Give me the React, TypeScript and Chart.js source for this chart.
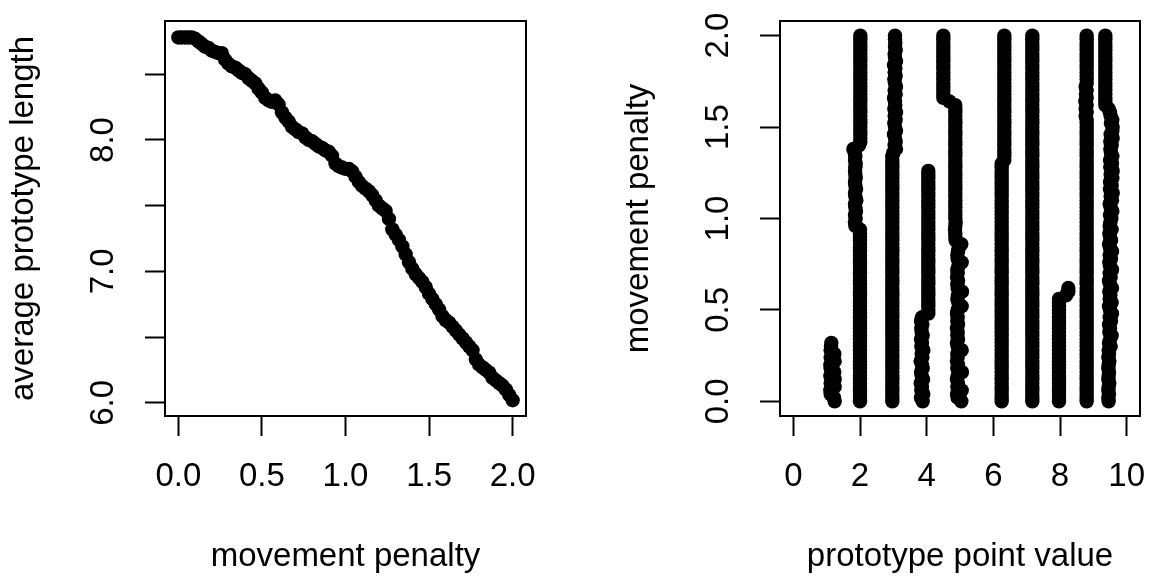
import { useEffect, useRef } from 'react';
import { Chart, registerables } from 'chart.js';

Chart.register(...registerables);

const N = null;

// movement penalty values (shared by both panels)
const penalties = [
  0.00, 0.02, 0.04, 0.06, 0.08, 0.10, 0.12, 0.14, 0.16, 0.18,
  0.20, 0.22, 0.24, 0.26, 0.28, 0.30, 0.32, 0.34, 0.36, 0.38,
  0.40, 0.42, 0.44, 0.46, 0.48, 0.50, 0.52, 0.54, 0.56, 0.58,
  0.60, 0.62, 0.64, 0.66, 0.68, 0.70, 0.72, 0.74, 0.76, 0.78,
  0.80, 0.82, 0.84, 0.86, 0.88, 0.90, 0.92, 0.94, 0.96, 0.98,
  1.00, 1.02, 1.04, 1.06, 1.08, 1.10, 1.12, 1.14, 1.16, 1.18,
  1.20, 1.22, 1.24, 1.26, 1.28, 1.30, 1.32, 1.34, 1.36, 1.38,
  1.40, 1.42, 1.44, 1.46, 1.48, 1.50, 1.52, 1.54, 1.56, 1.58,
  1.60, 1.62, 1.64, 1.66, 1.68, 1.70, 1.72, 1.74, 1.76, 1.78,
  1.80, 1.82, 1.84, 1.86, 1.88, 1.90, 1.92, 1.94, 1.96, 1.98,
  2.00,
];

// left panel: average prototype length per penalty
const avgPrototypeLength = [
  8.78, 8.78, 8.78, 8.78, 8.78, 8.77, 8.75, 8.73, 8.71, 8.70,
  8.68, 8.67, 8.66, 8.66, 8.61, 8.58, 8.56, 8.55, 8.53, 8.51,
  8.50, 8.47, 8.45, 8.43, 8.39, 8.36, 8.32, 8.30, 8.29, 8.30,
  8.27, 8.21, 8.17, 8.14, 8.10, 8.08, 8.06, 8.05, 8.02, 8.00,
  7.99, 7.97, 7.95, 7.94, 7.92, 7.91, 7.88, 7.82, 7.80, 7.79,
  7.78, 7.78, 7.76, 7.72, 7.68, 7.65, 7.63, 7.61, 7.58, 7.54,
  7.50, 7.48, 7.46, 7.40, 7.32, 7.28, 7.24, 7.19, 7.13, 7.07,
  7.02, 6.98, 6.95, 6.92, 6.88, 6.83, 6.79, 6.75, 6.71, 6.66,
  6.63, 6.61, 6.58, 6.55, 6.52, 6.49, 6.46, 6.43, 6.40, 6.33,
  6.29, 6.27, 6.25, 6.23, 6.19, 6.17, 6.15, 6.13, 6.10, 6.06,
  6.02,
];

// right panel: prototype point values per penalty (one array per prototype)
const protoA = [
  1.24, 1.22, 1.12, 1.11, 1.24, 1.12, 1.24, 1.11, 1.23, 1.12,
  1.11, 1.24, 1.12, 1.23, 1.12, 1.13, 1.14, N, N, N,
  N, N, N, N, N, N, N, N, N, N,
  N, N, N, N, N, N, N, N, N, N,
  N, N, N, N, N, N, N, N, N, N,
  N, N, N, N, N, N, N, N, N, N,
  N, N, N, N, N, N, N, N, N, N,
  N, N, N, N, N, N, N, N, N, N,
  N, N, N, N, N, N, N, N, N, N,
  N, N, N, N, N, N, N, N, N, N,
  N,
];
const protoB = [
  2.00, 2.00, 2.00, 2.00, 2.00, 2.00, 2.00, 2.00, 2.00, 2.00,
  2.00, 2.00, 2.00, 2.00, 2.00, 2.00, 2.00, 2.00, 2.00, 2.00,
  2.00, 2.00, 2.00, 2.00, 2.00, 2.00, 2.00, 2.00, 2.00, 2.00,
  2.00, 2.00, 2.00, 2.00, 2.00, 2.00, 2.00, 2.00, 2.00, 2.00,
  2.00, 2.00, 2.00, 2.00, 2.00, 2.00, 2.00, 2.00, 1.86, 1.85,
  1.87, 1.85, 1.88, 1.86, 1.85, 1.89, 1.86, 1.85, 1.88, 1.86,
  1.85, 1.87, 1.86, 1.85, 1.86, 1.87, 1.85, 1.86, 1.84, 1.80,
  1.97, 2.01, 2.01, 2.01, 2.01, 2.01, 2.01, 2.01, 2.01, 2.01,
  2.01, 2.01, 2.01, 2.01, 2.01, 2.01, 2.01, 2.01, 2.01, 2.01,
  2.01, 2.01, 2.01, 2.01, 2.01, 2.01, 2.01, 2.01, 2.01, 2.01,
  2.01,
];
const protoC = [
  2.97, 2.97, 2.97, 2.97, 2.97, 2.97, 2.97, 2.97, 2.97, 2.97,
  2.97, 2.97, 2.97, 2.97, 2.97, 2.97, 2.97, 2.97, 2.97, 2.97,
  2.97, 2.97, 2.97, 2.97, 2.97, 2.97, 2.97, 2.97, 2.97, 2.97,
  2.97, 2.97, 2.97, 2.97, 2.97, 2.97, 2.97, 2.97, 2.97, 2.97,
  2.97, 2.97, 2.97, 2.97, 2.97, 2.97, 2.97, 2.97, 2.97, 2.97,
  2.97, 2.97, 2.97, 2.97, 2.97, 2.97, 2.97, 2.97, 2.97, 2.97,
  2.97, 2.97, 2.97, 2.97, 2.97, 2.97, 2.97, 2.97, 3.00, 3.08,
  3.04, 3.07, 3.05, 3.02, 3.08, 3.05, 3.03, 3.07, 3.04, 3.08,
  3.03, 3.06, 3.05, 3.02, 3.07, 3.04, 3.08, 3.05, 3.03, 3.07,
  3.04, 3.06, 3.02, 3.08, 3.05, 3.04, 3.07, 3.05, 3.06, 3.05,
  3.05,
];
const protoD = [
  3.88, 3.83, 3.90, 3.84, 3.86, 3.82, 3.89, 3.85, 3.83, 3.88,
  3.86, 3.82, 3.87, 3.85, 3.90, 3.84, 3.86, 3.83, 3.88, 3.85,
  3.84, 3.87, 3.83, 3.86, 4.05, 4.05, 4.05, 4.05, 4.05, 4.05,
  4.05, 4.05, 4.05, 4.05, 4.05, 4.05, 4.05, 4.05, 4.05, 4.05,
  4.05, 4.05, 4.05, 4.05, 4.05, 4.05, 4.05, 4.05, 4.05, 4.05,
  4.05, 4.05, 4.05, 4.05, 4.05, 4.05, 4.05, 4.05, 4.05, 4.05,
  4.05, 4.05, 4.05, 4.05, N, N, N, N, N, N,
  N, N, N, N, N, N, N, N, N, N,
  N, N, N, N, N, N, N, N, N, N,
  N, N, N, N, N, N, N, N, N, N,
  N,
];
const protoE = [
  5.04, 4.93, 4.91, 5.05, 4.92, 4.94, 4.91, 4.93, 5.06, 4.92,
  4.94, 4.91, 4.93, 4.92, 5.05, 4.93, 4.91, 4.94, 4.92, 4.93,
  4.91, 4.94, 4.92, 4.93, 4.91, 4.93, 5.05, 4.95, 4.92, 4.94,
  5.06, 4.93, 4.92, 4.94, 4.91, 4.93, 4.92, 4.95, 5.05, 4.93,
  4.92, 4.94, 4.96, 5.04, 4.87, 4.86, 4.86, 4.85, 4.86, 4.87,
  4.86, 4.86, 4.86, 4.86, 4.86, 4.86, 4.86, 4.86, 4.86, 4.86,
  4.86, 4.86, 4.86, 4.86, 4.86, 4.86, 4.86, 4.86, 4.86, 4.86,
  4.86, 4.86, 4.86, 4.86, 4.86, 4.86, 4.86, 4.86, 4.86, 4.86,
  4.86, 4.86, 4.68, 4.50, 4.50, 4.50, 4.50, 4.50, 4.50, 4.50,
  4.50, 4.50, 4.50, 4.50, 4.50, 4.50, 4.50, 4.50, 4.50, 4.50,
  4.50,
];
const protoF = [
  6.25, 6.25, 6.25, 6.25, 6.25, 6.25, 6.25, 6.25, 6.25, 6.25,
  6.25, 6.25, 6.25, 6.25, 6.25, 6.25, 6.25, 6.25, 6.25, 6.25,
  6.25, 6.25, 6.25, 6.25, 6.25, 6.25, 6.25, 6.25, 6.25, 6.25,
  6.25, 6.25, 6.25, 6.25, 6.25, 6.25, 6.25, 6.25, 6.25, 6.25,
  6.25, 6.25, 6.25, 6.25, 6.25, 6.25, 6.25, 6.25, 6.25, 6.25,
  6.25, 6.25, 6.25, 6.25, 6.25, 6.25, 6.25, 6.25, 6.25, 6.25,
  6.25, 6.25, 6.25, 6.25, 6.25, 6.25, 6.33, 6.33, 6.33, 6.33,
  6.33, 6.33, 6.33, 6.33, 6.33, 6.33, 6.33, 6.33, 6.33, 6.33,
  6.33, 6.33, 6.33, 6.33, 6.33, 6.33, 6.33, 6.33, 6.33, 6.33,
  6.33, 6.33, 6.33, 6.33, 6.33, 6.33, 6.33, 6.33, 6.33, 6.33,
  6.33,
];
const protoG = [
  7.17, 7.17, 7.17, 7.17, 7.17, 7.17, 7.17, 7.17, 7.17, 7.17,
  7.17, 7.17, 7.17, 7.17, 7.17, 7.17, 7.17, 7.17, 7.17, 7.17,
  7.17, 7.17, 7.17, 7.17, 7.17, 7.17, 7.17, 7.17, 7.17, 7.17,
  7.17, 7.17, 7.17, 7.17, 7.17, 7.17, 7.17, 7.17, 7.17, 7.17,
  7.17, 7.17, 7.17, 7.17, 7.17, 7.17, 7.17, 7.17, 7.17, 7.17,
  7.17, 7.17, 7.17, 7.17, 7.17, 7.17, 7.17, 7.17, 7.17, 7.17,
  7.17, 7.17, 7.17, 7.17, 7.17, 7.17, 7.17, 7.17, 7.17, 7.17,
  7.17, 7.17, 7.17, 7.17, 7.17, 7.17, 7.17, 7.17, 7.17, 7.17,
  7.17, 7.17, 7.17, 7.17, 7.17, 7.17, 7.17, 7.17, 7.17, 7.17,
  7.17, 7.17, 7.17, 7.17, 7.17, 7.17, 7.17, 7.17, 7.17, 7.17,
  7.17,
];
const protoH = [
  7.97, 7.97, 7.97, 7.97, 7.97, 7.97, 7.97, 7.97, 7.97, 7.97,
  7.97, 7.97, 7.97, 7.97, 7.97, 7.97, 7.97, 7.97, 7.97, 7.97,
  7.97, 7.97, 7.97, 7.97, 7.97, 7.97, 7.97, 7.97, 7.97, 8.18,
  8.25, 8.25, N, N, N, N, N, N, N, N,
  N, N, N, N, N, N, N, N, N, N,
  N, N, N, N, N, N, N, N, N, N,
  N, N, N, N, N, N, N, N, N, N,
  N, N, N, N, N, N, N, N, N, N,
  N, N, N, N, N, N, N, N, N, N,
  N, N, N, N, N, N, N, N, N, N,
  N,
];
const protoI = [
  8.80, 8.80, 8.80, 8.80, 8.80, 8.80, 8.80, 8.80, 8.80, 8.80,
  8.80, 8.80, 8.80, 8.80, 8.80, 8.80, 8.80, 8.80, 8.80, 8.80,
  8.80, 8.80, 8.80, 8.80, 8.80, 8.80, 8.80, 8.80, 8.80, 8.80,
  8.80, 8.80, 8.80, 8.80, 8.80, 8.80, 8.80, 8.80, 8.80, 8.80,
  8.80, 8.80, 8.80, 8.80, 8.80, 8.80, 8.80, 8.80, 8.80, 8.80,
  8.80, 8.80, 8.80, 8.80, 8.80, 8.80, 8.80, 8.80, 8.80, 8.80,
  8.80, 8.80, 8.80, 8.80, 8.80, 8.80, 8.80, 8.80, 8.80, 8.80,
  8.80, 8.80, 8.80, 8.80, 8.80, 8.80, 8.80, 8.80, 8.77, 8.80,
  8.77, 8.80, 8.76, 8.80, 8.78, 8.80, 8.77, 8.80, 8.80, 8.80,
  8.80, 8.80, 8.80, 8.80, 8.80, 8.80, 8.80, 8.80, 8.80, 8.80,
  8.80,
];
const protoJ = [
  9.46, 9.45, 9.47, 9.45, 9.46, 9.48, 9.45, 9.46, 9.47, 9.45,
  9.46, 9.48, 9.45, 9.47, 9.46, 9.52, 9.47, 9.50, 9.55, 9.48,
  9.50, 9.47, 9.53, 9.49, 9.56, 9.50, 9.47, 9.55, 9.49, 9.51,
  9.48, 9.56, 9.50, 9.47, 9.52, 9.49, 9.56, 9.50, 9.48, 9.53,
  9.49, 9.56, 9.50, 9.47, 9.53, 9.50, 9.48, 9.55, 9.49, 9.51,
  9.54, 9.50, 9.57, 9.52, 9.49, 9.56, 9.52, 9.58, 9.50, 9.55,
  9.50, 9.57, 9.52, 9.58, 9.51, 9.56, 9.50, 9.57, 9.53, 9.51,
  9.55, 9.51, 9.58, 9.52, 9.57, 9.58, 9.53, 9.57, 9.52, 9.50,
  9.46, 9.36, 9.36, 9.36, 9.36, 9.36, 9.36, 9.36, 9.36, 9.36,
  9.36, 9.36, 9.36, 9.36, 9.36, 9.36, 9.36, 9.36, 9.36, 9.36,
  9.36,
];
const prototypeTracks = [protoA, protoB, protoC, protoD, protoE, protoF, protoG, protoH, protoI, protoJ];

// axes
const leftXTicks = [0, 0.5, 1, 1.5, 2];
const leftXTickLabels = ['0.0', '0.5', '1.0', '1.5', '2.0'];
const leftYTicks = [6, 6.5, 7, 7.5, 8, 8.5];
const leftYTickLabels = ['6.0', '', '7.0', '', '8.0', ''];
const rightXTicks = [0, 2, 4, 6, 8, 10];
const rightXTickLabels = ['0', '2', '4', '6', '8', '10'];
const rightYTicks = [0, 0.5, 1, 1.5, 2];
const rightYTickLabels = ['0.0', '0.5', '1.0', '1.5', '2.0'];

const FONT = { family: "'Liberation Sans', Arial, Helvetica, sans-serif", size: 33, lineHeight: 1.2 };
const INK = '#000000';

const boxPlugin = {
  id: 'rBox',
  afterDatasetsDraw(chart: any) {
    const { ctx, chartArea: a } = chart;
    ctx.save();
    ctx.strokeStyle = INK;
    ctx.lineWidth = 2;
    ctx.strokeRect(a.left, a.top, a.right - a.left, a.bottom - a.top);
    ctx.restore();
  },
};

const gridOpts = {
  display: true,
  drawOnChartArea: false,
  drawTicks: true,
  tickLength: 20,
  tickWidth: 2,
  tickColor: INK,
};

function xAxis(min: number, max: number, ticks: number[], labels: string[], title: string) {
  return {
    type: 'linear',
    position: 'bottom',
    min,
    max,
    afterBuildTicks: (s: any) => {
      s.ticks = ticks.map((v) => ({ value: v }));
    },
    afterFit: (s: any) => {
      s.height = 162;
      s.paddingLeft = 0;
      s.paddingRight = 0;
    },
    ticks: {
      autoSkip: false,
      minRotation: 0,
      maxRotation: 0,
      padding: 21.1,
      color: INK,
      font: FONT,
      callback: (_v: any, i: number) => labels[i],
    },
    grid: gridOpts,
    border: { display: false },
    title: { display: true, text: title, color: INK, font: FONT, padding: { top: 0, bottom: 1.6 } },
  };
}

function yAxis(min: number, max: number, ticks: number[], labels: string[], title: string) {
  return {
    type: 'linear',
    position: 'left',
    min,
    max,
    afterBuildTicks: (s: any) => {
      s.ticks = ticks.map((v) => ({ value: v }));
    },
    afterFit: (s: any) => {
      s.width = 165;
      s.paddingTop = 0;
      s.paddingBottom = 0;
    },
    ticks: {
      autoSkip: false,
      minRotation: 90,
      maxRotation: 90,
      crossAlign: 'center',
      padding: 18,
      color: INK,
      font: FONT,
      callback: (_v: any, i: number) => labels[i],
    },
    grid: gridOpts,
    border: { display: false },
    title: { display: true, text: title, color: INK, font: FONT, padding: { top: 3.8, bottom: 0 } },
  };
}

function baseOptions(rightPad: number, scales: any) {
  return {
    responsive: false,
    maintainAspectRatio: false,
    animation: false,
    devicePixelRatio: 1,
    events: [],
    layout: { padding: { left: 0, top: 21, right: rightPad, bottom: 0 } },
    plugins: { legend: { display: false }, tooltip: { enabled: false } },
    scales,
  };
}

const pointStyle = {
  backgroundColor: INK,
  borderColor: INK,
  borderWidth: 0,
  pointRadius: 7.2,
  pointHoverRadius: 7.2,
  showLine: false,
};

export default function App() {
  const leftRef = useRef<HTMLCanvasElement>(null);
  const rightRef = useRef<HTMLCanvasElement>(null);

  useEffect(() => {
    const leftData = penalties.map((p, i) => ({ x: p, y: avgPrototypeLength[i] }));
    const rightData: { x: number; y: number }[] = [];
    prototypeTracks.forEach((track) => {
      track.forEach((v, i) => {
        if (v !== null) rightData.push({ x: v as number, y: penalties[i] });
      });
    });

    const left = new Chart(leftRef.current as HTMLCanvasElement, {
      type: 'scatter',
      data: { datasets: [{ data: leftData, ...pointStyle }] },
      options: baseOptions(89, {
        x: xAxis(-0.08, 2.08, leftXTicks, leftXTickLabels, 'movement penalty'),
        y: yAxis(5.9, 8.905, leftYTicks, leftYTickLabels, 'average prototype length'),
      }) as any,
      plugins: [boxPlugin],
    });

    const right = new Chart(rightRef.current as HTMLCanvasElement, {
      type: 'scatter',
      data: { datasets: [{ data: rightData, ...pointStyle }] },
      options: baseOptions(9, {
        x: xAxis(-0.4, 10.4, rightXTicks, rightXTickLabels, 'prototype point value'),
        y: yAxis(-0.08, 2.08, rightYTicks, rightYTickLabels, 'movement penalty'),
      }) as any,
      plugins: [boxPlugin],
    });

    return () => {
      left.destroy();
      right.destroy();
    };
  }, []);

  return (
    <div style={{ position: 'absolute', left: 0, top: 0, width: 1149, height: 578, background: '#ffffff', overflow: 'hidden' }}>
      <canvas
        ref={leftRef}
        width={615}
        height={578}
        style={{ position: 'absolute', left: 0, top: 0, width: 615, height: 578 }}
      />
      <canvas
        ref={rightRef}
        width={534}
        height={578}
        style={{ position: 'absolute', left: 615, top: 0, width: 534, height: 578 }}
      />
    </div>
  );
}
